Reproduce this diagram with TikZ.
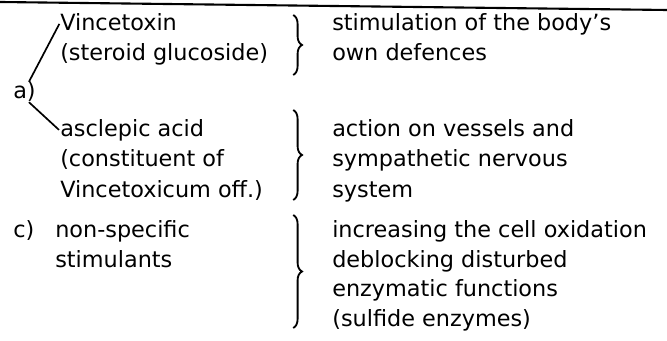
\documentclass[tikz,border=0pt]{standalone}
\usepackage{fontspec}
\setmainfont{DejaVu Sans}
\usetikzlibrary{decorations.pathreplacing}

\tikzset{
  txt/.style={anchor=base west, inner sep=0pt, font=\fontsize{15.9}{21.3}\selectfont},
  grp/.style={decorate, decoration={brace, amplitude=0.22cm}, line width=1.3pt},
}

\begin{document}
\begin{tikzpicture}
\useasboundingbox (0,0) rectangle (16.675,8.525);
\draw [line width=1.5pt] (0,8.475) -- (16.675,8.275);
% left column
\node [txt] (a) at (0.325,6.05) {a)};
\node [txt] (vinc) at (1.5,7.75) {Vincetoxin};
\node [txt] (vincb) at (1.5,7.0) {(steroid glucoside)};
\node [txt] (ascl) at (1.5,5.1) {asclepic acid};
\node [txt] (asclb) at (1.5,4.35) {(constituent of};
\node [txt] (asclc) at (1.5,3.575) {Vincetoxicum off.)};
\node [txt] (c) at (0.325,2.575) {c)};
\node [txt] (nons) at (1.375,2.575) {non-specific};
\node [txt] (nonsb) at (1.375,1.825) {stimulants};
\draw [line width=1.2pt, shorten >=1pt] ([xshift=-5pt]a.north east) -- (vinc.west);
\draw [line width=1.2pt, shorten >=1pt] ([xshift=-5pt]a.south east) -- (ascl.west);
% braces
\coordinate (b1t) at (7.33,8.15);
\coordinate (b1b) at (7.33,6.65);
\coordinate (b2t) at (7.33,5.775);
\coordinate (b2b) at (7.33,3.525);
\coordinate (b3t) at (7.33,3.15);
\coordinate (b3b) at (7.33,0.325);
\draw [grp] (b1t) -- (b1b);
\draw [grp] (b2t) -- (b2b);
\draw [grp] (b3t) -- (b3b);
% right column
\node [txt] (stim) at (8.3,7.75) {stimulation of the body's};
\node [txt] (stimb) at (8.3,7.0) {own defences};
\node [txt] (act) at (8.3,5.1) {action on vessels and};
\node [txt] (actb) at (8.3,4.35) {sympathetic nervous};
\node [txt] (actc) at (8.3,3.575) {system};
\node [txt] (inc) at (8.3,2.575) {increasing the cell oxidation};
\node [txt] (incb) at (8.3,1.825) {deblocking disturbed};
\node [txt] (incc) at (8.3,1.1) {enzymatic functions};
\node [txt] (incd) at (8.3,0.35) {(sulfide enzymes)};
\end{tikzpicture}
\end{document}
